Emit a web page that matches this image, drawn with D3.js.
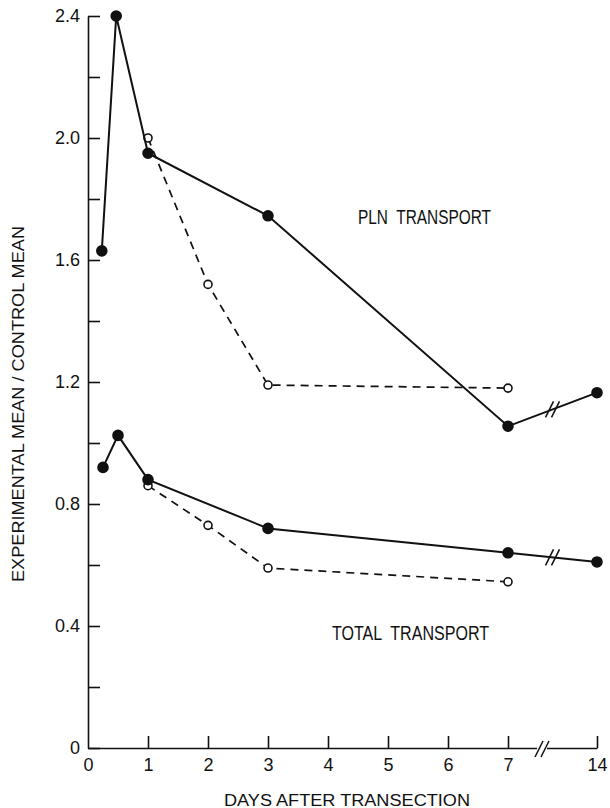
<!DOCTYPE html>
<html>
<head>
<meta charset="utf-8">
<script src="https://cdn.jsdelivr.net/npm/d3@7"></script>
<style>
  body { margin: 0; background: #fff; }
  svg text { font-family: "Liberation Sans", Arial, sans-serif; fill: #111; }
</style>
</head>
<body>
<svg id="chart" width="610" height="808"></svg>
<script>
// days after transection
const plnDaysSolid = [0.23, 0.47, 1, 3, 7, 14]
const plnSolid = [1.63, 2.40, 1.95, 1.745, 1.055, 1.165]
const plnDaysOpen = [1, 2, 3, 7]
const plnOpen = [2.00, 1.52, 1.19, 1.18]

const totDaysSolid = [0.25, 0.5, 1, 3, 7, 14]
const totSolid = [0.92, 1.025, 0.88, 0.72, 0.64, 0.61]
const totDaysOpen = [1, 2, 3, 7]
const totOpen = [0.86, 0.73, 0.59, 0.545]

const xTicks = [0, 1, 2, 3, 4, 5, 6, 7, 14]
const yTicks = [0, 0.2, 0.4, 0.6, 0.8, 1.0, 1.2, 1.4, 1.6, 1.8, 2.0, 2.2, 2.4]
const yLabelled = [0, 0.4, 0.8, 1.2, 1.6, 2.0, 2.4]

const svg = d3.select("#chart")

// broken axis: 0..7 then jump to 14
const x = d3.scaleLinear().domain([0, 7, 14]).range([88, 508, 597])
const y = d3.scaleLinear().domain([0, 2.4]).range([748, 16])

const tickLen = 12

// y axis
const yAxis = svg.append("g")
	.attr("transform", "translate(" + x(0) + ",0)")
	.call(d3.axisLeft(y)
		.tickValues(yTicks)
		.tickSize(-tickLen)
		.tickSizeOuter(0)
		.tickPadding(8)
		.tickFormat(d => {
			if (!yLabelled.some(v => Math.abs(v - d) < 1e-6)) return ""
			return d === 0 ? "0" : d3.format(".1f")(d)
		}))
yAxis.selectAll("path, line").attr("stroke", "#111").attr("stroke-width", 1.6)
yAxis.selectAll("text").style("font-size", "18px").attr("fill", "#111")

// x axis
const xAxis = svg.append("g")
	.attr("transform", "translate(0," + y(0) + ")")
	.call(d3.axisBottom(x)
		.tickValues(xTicks)
		.tickSize(-tickLen)
		.tickSizeOuter(0)
		.tickPadding(10)
		.tickFormat(d3.format("d")))
xAxis.selectAll("path, line").attr("stroke", "#111").attr("stroke-width", 1.6)
xAxis.selectAll("text").style("font-size", "18px").attr("fill", "#111")
xAxis.selectAll(".tick").filter(d => d === 0).select("line").remove()

// slash pair used for breaks
function slashes(cx, cy, gap) {
	const g = svg.append("g")
	if (gap) g.append("rect").attr("x", cx - 5).attr("y", cy - 3).attr("width", 10).attr("height", 6).attr("fill", "#fff")
	;[-3, 3].forEach(o => {
		g.append("line")
			.attr("x1", cx + o - 4).attr("y1", cy + 8)
			.attr("x2", cx + o + 4).attr("y2", cy - 8)
			.attr("stroke", "#111").attr("stroke-width", 1.6)
	})
}
slashes(542, y(0) + 1, true)

const line = d3.line().x(d => x(d[0])).y(d => y(d[1]))

function series(days, vals, dashed, filled) {
	const pts = days.map((d, i) => [d, vals[i]])
	svg.append("path")
		.datum(pts)
		.attr("d", line)
		.attr("fill", "none")
		.attr("stroke", "#111")
		.attr("stroke-width", dashed ? 1.7 : 2)
		.attr("stroke-dasharray", dashed ? "8,6" : null)
	// break marks on the 7 -> 14 segment
	const i7 = days.indexOf(7), i14 = days.indexOf(14)
	if (i7 >= 0 && i14 >= 0) {
		const t = 0.5
		const px = x(7) + t * (x(14) - x(7))
		const py = y(vals[i7]) + t * (y(vals[i14]) - y(vals[i7]))
		slashes(px, py, false)
	}
	svg.append("g")
		.selectAll("circle")
		.data(pts)
		.join("circle")
		.attr("cx", d => x(d[0]))
		.attr("cy", d => y(d[1]))
		.attr("r", filled ? 5 : 4)
		.attr("fill", filled ? "#111" : "#fff")
		.attr("stroke", "#111")
		.attr("stroke-width", 1.6)
}

series(plnDaysOpen, plnOpen, true, false)
series(totDaysOpen, totOpen, true, false)
series(plnDaysSolid, plnSolid, false, true)
series(totDaysSolid, totSolid, false, true)

// annotations
svg.append("text").attr("x", 358).attr("y", 224)
	.style("font-size", "21px").style("white-space", "pre")
	.attr("textLength", 133).attr("lengthAdjust", "spacingAndGlyphs")
	.text("PLN  TRANSPORT")
svg.append("text").attr("x", 332).attr("y", 640)
	.style("font-size", "21px").style("white-space", "pre")
	.attr("textLength", 157).attr("lengthAdjust", "spacingAndGlyphs")
	.text("TOTAL  TRANSPORT")

// axis titles
svg.append("text")
	.attr("transform", "translate(24,404) rotate(-90)")
	.attr("text-anchor", "middle")
	.style("font-size", "16px")
	.attr("textLength", 356).attr("lengthAdjust", "spacingAndGlyphs")
	.text("EXPERIMENTAL MEAN / CONTROL MEAN")
svg.append("text")
	.attr("x", 347).attr("y", 806)
	.attr("text-anchor", "middle")
	.style("font-size", "16px")
	.attr("textLength", 246).attr("lengthAdjust", "spacingAndGlyphs")
	.text("DAYS AFTER TRANSECTION")
</script>
</body>
</html>
